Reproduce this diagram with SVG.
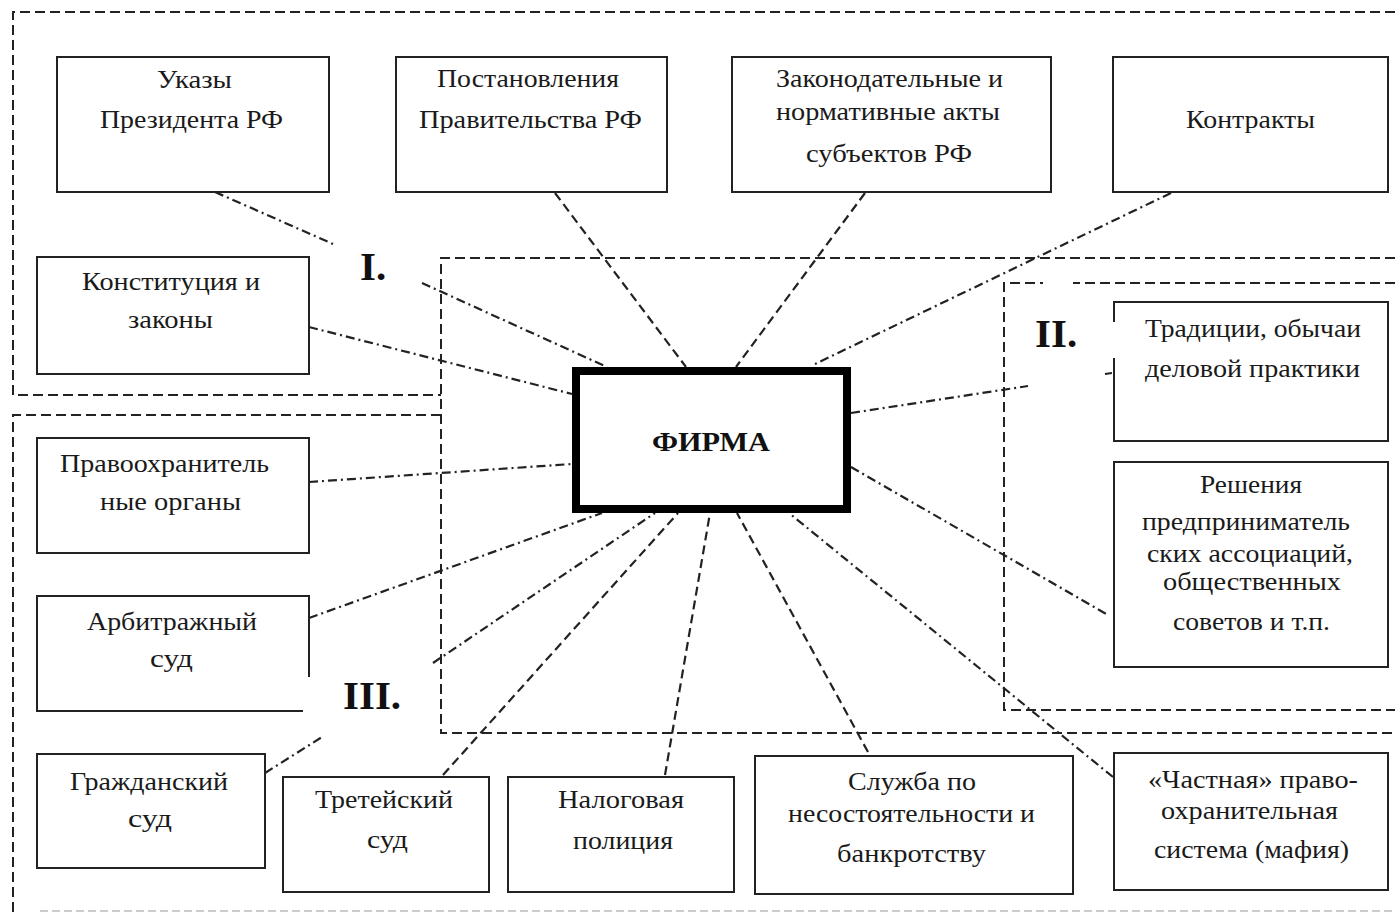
<svg xmlns="http://www.w3.org/2000/svg" width="1395" height="913" viewBox="0 0 1395 913">
<style>
.region{fill:none;stroke:#222;stroke-width:2;stroke-dasharray:10 5}
.faint{fill:none;stroke:#ccc;stroke-width:2;stroke-dasharray:8 4}
.box{fill:#fff;stroke:#222;stroke-width:2}
.firm{fill:#fff;stroke:#000;stroke-width:8}
.dd{fill:none;stroke:#222;stroke-width:2.2;stroke-dasharray:9 4 2 4}
.ds{fill:none;stroke:#222;stroke-width:2.2;stroke-dasharray:9 5}
text{font-family:"Liberation Serif","Times New Roman",serif;font-size:25px;fill:#1a1a1a}
.lbl{font-size:41px;font-weight:bold;fill:#111}
.fn{font-size:27px;font-weight:bold;fill:#111}
.mask{fill:#fff;stroke:none}
</style>
<rect width="1395" height="913" fill="#fff"/>
<g id="regions">
<path class="region" d="M1395,12 H13 V395 H441"/>
<path class="region" d="M1395,258 H441 V733 H1395"/>
<path class="region" d="M441,415 H13 V913"/>
<path class="region" d="M1395,283 H1004 V710 H1395"/>
<path class="faint" d="M40,911 H1395"/>
</g>
<g id="connectors">
<path class="dd" d="M215,192 L333,244 M422,283 L607,367"/>
<path class="ds" d="M555,193 L686,367"/>
<path class="ds" d="M865,193 L736,367"/>
<path class="dd" d="M1171,193 L815,364"/>
<path class="dd" d="M309,327 L572,394"/>
<path class="dd" d="M309,482 L572,464"/>
<path class="dd" d="M309,618 L602,513"/>
<path class="dd" d="M265,773 L322,737 M433,663 L655,513"/>
<path class="ds" d="M443,775 L678,513"/>
<path class="ds" d="M665,775 L710,513"/>
<path class="ds" d="M868,752 L737,513"/>
<path class="dd" d="M1113,777 L789,513"/>
<path class="dd" d="M851,467 L1108,615"/>
<path class="dd" d="M851,413 L1028,386 M1105,374 L1112,373"/>
</g>
<g id="n-ukazy">
<rect class="box" x="57" y="57" width="272" height="135"/>
<text x="157" y="88" textLength="75" lengthAdjust="spacingAndGlyphs">Указы</text>
<text x="100" y="128" textLength="183" lengthAdjust="spacingAndGlyphs">Президента РФ</text>
</g>
<g id="n-postanovleniya">
<rect class="box" x="396" y="57" width="271" height="135"/>
<text x="437" y="87" textLength="182" lengthAdjust="spacingAndGlyphs">Постановления</text>
<text x="419" y="128" textLength="223" lengthAdjust="spacingAndGlyphs">Правительства РФ</text>
</g>
<g id="n-zakonodatelnye">
<rect class="box" x="732" y="57" width="319" height="135"/>
<text x="776" y="87" textLength="227" lengthAdjust="spacingAndGlyphs">Законодательные и</text>
<text x="776" y="120" textLength="224" lengthAdjust="spacingAndGlyphs">нормативные акты</text>
<text x="806" y="162" textLength="166" lengthAdjust="spacingAndGlyphs">субъектов РФ</text>
</g>
<g id="n-kontrakty">
<rect class="box" x="1113" y="57" width="275" height="135"/>
<text x="1186" y="128" textLength="129" lengthAdjust="spacingAndGlyphs">Контракты</text>
</g>
<g id="n-konstituciya">
<rect class="box" x="37" y="257" width="272" height="117"/>
<text x="82" y="290" textLength="178" lengthAdjust="spacingAndGlyphs">Конституция и</text>
<text x="128" y="328" textLength="85" lengthAdjust="spacingAndGlyphs">законы</text>
</g>
<g id="n-firma">
<rect class="firm" x="576" y="371" width="271" height="138"/>
<text class="fn" x="652" y="451" textLength="118" lengthAdjust="spacingAndGlyphs">ФИРМА</text>
</g>
<g id="n-tradicii">
<rect class="box" x="1114" y="302" width="274" height="139"/>
<text x="1145" y="337" textLength="216" lengthAdjust="spacingAndGlyphs">Традиции, обычаи</text>
<text x="1145" y="377" textLength="215" lengthAdjust="spacingAndGlyphs">деловой практики</text>
</g>
<g id="n-resheniya">
<rect class="box" x="1114" y="462" width="274" height="205"/>
<text x="1200" y="493" textLength="102" lengthAdjust="spacingAndGlyphs">Решения</text>
<text x="1142" y="530" textLength="208" lengthAdjust="spacingAndGlyphs">предприниматель</text>
<text x="1147" y="562" textLength="206" lengthAdjust="spacingAndGlyphs">ских ассоциаций,</text>
<text x="1163" y="590" textLength="178" lengthAdjust="spacingAndGlyphs">общественных</text>
<text x="1173" y="630" textLength="157" lengthAdjust="spacingAndGlyphs">советов и т.п.</text>
</g>
<g id="n-pravoohran">
<rect class="box" x="37" y="438" width="272" height="115"/>
<text x="60" y="472" textLength="209" lengthAdjust="spacingAndGlyphs">Правоохранитель</text>
<text x="100" y="510" textLength="141" lengthAdjust="spacingAndGlyphs">ные органы</text>
</g>
<g id="n-arbitrazh">
<rect class="box" x="37" y="596" width="272" height="115"/>
<text x="87" y="630" textLength="170" lengthAdjust="spacingAndGlyphs">Арбитражный</text>
<text x="150" y="667" textLength="43" lengthAdjust="spacingAndGlyphs">суд</text>
</g>
<g id="n-grazhd">
<rect class="box" x="37" y="754" width="228" height="114"/>
<text x="70" y="790" textLength="158" lengthAdjust="spacingAndGlyphs">Гражданский</text>
<text x="128" y="827" textLength="44" lengthAdjust="spacingAndGlyphs">суд</text>
</g>
<g id="n-treteisky">
<rect class="box" x="283" y="777" width="206" height="115"/>
<text x="315" y="808" textLength="138" lengthAdjust="spacingAndGlyphs">Третейский</text>
<text x="367" y="848" textLength="41" lengthAdjust="spacingAndGlyphs">суд</text>
</g>
<g id="n-nalog">
<rect class="box" x="508" y="777" width="226" height="115"/>
<text x="558" y="808" textLength="126" lengthAdjust="spacingAndGlyphs">Налоговая</text>
<text x="573" y="849" textLength="100" lengthAdjust="spacingAndGlyphs">полиция</text>
</g>
<g id="n-sluzhba">
<rect class="box" x="755" y="756" width="318" height="138"/>
<text x="848" y="790" textLength="128" lengthAdjust="spacingAndGlyphs">Служба по</text>
<text x="788" y="822" textLength="247" lengthAdjust="spacingAndGlyphs">несостоятельности и</text>
<text x="837" y="862" textLength="149" lengthAdjust="spacingAndGlyphs">банкротству</text>
</g>
<g id="n-chastnaya">
<rect class="box" x="1114" y="753" width="274" height="137"/>
<text x="1148" y="788" textLength="210" lengthAdjust="spacingAndGlyphs">«Частная» право-</text>
<text x="1161" y="819" textLength="177" lengthAdjust="spacingAndGlyphs">охранительная</text>
<text x="1154" y="858" textLength="195" lengthAdjust="spacingAndGlyphs">система (мафия)</text>
</g>
<g id="labels">
<text class="lbl" x="360" y="280">I.</text>
<rect class="mask" x="1043" y="278" width="30" height="10"/>
<rect class="mask" x="1110" y="322" width="8" height="36"/>
<text class="lbl" x="1035" y="347">II.</text>
<rect class="mask" x="303" y="677" width="10" height="38"/>
<text class="lbl" x="343" y="709">III.</text>
</g>
</svg>
